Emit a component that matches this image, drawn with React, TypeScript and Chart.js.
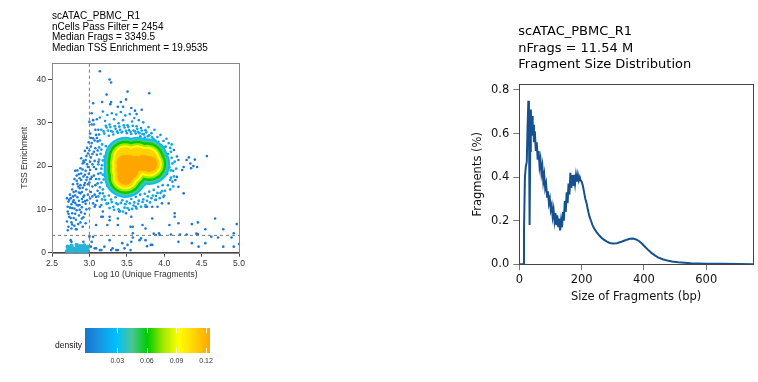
import React, { useEffect, useRef } from "react";
import { Chart, registerables } from "chart.js";
Chart.register(...registerables);

// ---------- text ----------
const scatterTitle = [
  "scATAC_PBMC_R1",
  "nCells Pass Filter = 2454",
  "Median Frags = 3349.5",
  "Median TSS Enrichment = 19.9535",
];
const fragTitle = ["scATAC_PBMC_R1", "nFrags = 11.54 M", "Fragment Size Distribution"];

// ---------- ticks ----------
const logFragTicks = [2.5, 3.0, 3.5, 4.0, 4.5, 5.0];
const tssTicks = [0, 10, 20, 30, 40];
const fragSizeTicks = [0, 200, 400, 600];
const fragPctTicks = [0, 0.2, 0.4, 0.6, 0.8];
const densityTicks = [0.03, 0.06, 0.09, 0.12];
const densityRange = [-0.0027, 0.124];
const densityPalette = ["#1873CC", "#1798E5", "#00BFFF", "#4AC596", "#00CC00", "#A2E700", "#FFFF00", "#FFD200", "#FFA500"];

// ---------- filter cutoffs ----------
const cutoffLogFrags = 3;
const cutoffTss = 4;

// ---------- fragment size distribution ----------
const fragSizes = [0, 5, 10, 12, 15, 18, 21, 24, 26, 29, 31, 33, 35, 37, 39, 41, 43, 45, 47, 50, 53, 56, 59, 62, 65, 68, 71, 74, 77, 80, 83, 86, 89, 92, 95, 98, 101, 104, 107, 110, 113, 116, 119, 122, 125, 128, 131, 134, 137, 140, 143, 146, 149, 152, 155, 158, 161, 164, 167, 170, 173, 176, 179, 182, 185, 188, 191, 194, 197, 200, 204, 208, 212, 216, 220, 225, 230, 235, 240, 248, 255, 262, 270, 280, 290, 300, 313, 325, 334, 345, 355, 365, 375, 385, 395, 405, 415, 425, 435, 445, 460, 475, 490, 510, 530, 550, 575, 600, 650, 700, 750];
const fragPercents = [0, 0, 0, 0, 0.15, 0.40, 0.45, 0.47, 0.60, 0.75, 0.68, 0.18, 0.52, 0.71, 0.63, 0.68, 0.59, 0.64, 0.56, 0.61, 0.52, 0.56, 0.48, 0.52, 0.45, 0.48, 0.42, 0.45, 0.38, 0.41, 0.35, 0.37, 0.31, 0.335, 0.28, 0.30, 0.25, 0.27, 0.22, 0.25, 0.20, 0.235, 0.18, 0.225, 0.17, 0.21, 0.155, 0.20, 0.17, 0.24, 0.20, 0.29, 0.24, 0.33, 0.28, 0.37, 0.32, 0.42, 0.35, 0.41, 0.36, 0.41, 0.37, 0.41, 0.38, 0.41, 0.385, 0.40, 0.385, 0.38, 0.36, 0.33, 0.30, 0.28, 0.25, 0.22, 0.20, 0.18, 0.165, 0.148, 0.135, 0.124, 0.114, 0.105, 0.098, 0.096, 0.097, 0.102, 0.107, 0.113, 0.117, 0.118, 0.114, 0.106, 0.093, 0.078, 0.064, 0.051, 0.041, 0.032, 0.023, 0.017, 0.013, 0.009, 0.007, 0.005, 0.004, 0.003, 0.002, 0.001, 0.0005];

// ---------- cells: [log10 unique fragments, TSS enrichment] ----------
const sparseCells = [
  [3.14, 41.9], [3.27, 40.0], [3.29, 39.3], [3.23, 36.5], [3.51, 37.2], [3.80, 36.8], [3.05, 34.5], [3.17, 34.8], [3.29, 34.8], [3.28, 34.3],
  [3.42, 34.8], [3.49, 35.4], [3.38, 33.7], [3.45, 33.7], [3.61, 32.8], [3.63, 32.0], [3.05, 30.6], [3.03, 32.2], [3.70, 33.0], [3.56, 33.4],
  [4.13, 23.7], [4.17, 22.2], [4.19, 21.4], [4.33, 22.0], [4.30, 21.4], [4.41, 21.5], [4.35, 20.6], [4.39, 20.0], [4.36, 19.5], [4.44, 19.8],
  [4.57, 22.3], [4.26, 19.8], [4.24, 19.1], [4.17, 17.5], [4.15, 16.8], [4.19, 15.2], [4.26, 13.7], [4.06, 11.4], [3.99, 12.9], [3.91, 10.6],
  [3.77, 10.6], [4.14, 9.1], [4.14, 8.3], [3.84, 7.9], [4.07, 6.4], [4.19, 6.8], [4.37, 6.6], [4.45, 7.0], [4.68, 7.9],
  [3.86, 4.4], [4.09, 4.2], [4.21, 4.2], [4.30, 4.2], [4.43, 4.4], [4.45, 4.3], [4.55, 5.4], [4.63, 3.7], [4.72, 3.5], [4.79, 5.4],
  [4.90, 3.5], [4.93, 4.5], [4.97, 6.6], [4.19, 2.5], [4.37, 2.2], [4.46, 1.4], [4.55, 2.2], [4.79, 1.4], [4.93, 1.4], [5.0, 2.0],
  [3.77, 1.5], [3.84, 1.8], [3.94, 4.1], [2.75, 2.9], [2.91, 6.0], [2.83, 5.4], [3.0, 3.7], [3.02, 1.4], [3.07, 1.0], [3.16, 0.6],
  [3.20, 1.4], [3.29, 0.6], [3.27, 2.9], [3.38, 0.6], [3.47, 1.0], [3.55, 0.6], [3.18, 9.5], [3.16, 8.3], [3.24, 6.4], [3.27, 8.3],
  [3.38, 7.9], [3.40, 9.5], [3.55, 6.0], [3.71, 6.4], [3.69, 3.3], [3.58, 3.5], [3.44, 2.2], [3.09, 6.4], [3.58, 4.5], [3.75, 2.9],
  [3.67, 2.9], [3.51, 1.8], [3.56, 2.5], [3.82, 1.8], [3.93, 4.5], [3.89, 4.1], [3.05, 3.7], [3.03, 2.5], [2.92, 2.5], [2.76, 2.5],
  [3.09, 1.0], [3.14, 0.6], [3.31, 1.0], [3.36, 0.6], [3.97, 11.4], [3.89, 12.2], [3.84, 10.6], [3.75, 10.6], [3.62, 10.6], [3.56, 8.3],
  [3.49, 9.1], [3.38, 6.4], [3.58, 6.0], [3.75, 5.6], [3.27, 7.5], [3.18, 8.3], [3.14, 10.6], [3.07, 10.6], [3.09, 12.9], [3.14, 13.7],
];
const wingCells = [
  [2.70, 7.2], [2.71, 9.5], [2.72, 11.8], [2.70, 12.6], [2.73, 8.3], [2.74, 10.4], [2.72, 6.0], [2.74, 13.4], [2.71, 5.2],
  [2.76, 7.0], [2.77, 9.1], [2.76, 11.2], [2.78, 13.0], [2.77, 14.6], [2.79, 8.0], [2.80, 10.2], [2.79, 12.1], [2.78, 15.8], [2.80, 17.0], [2.76, 5.6], [2.80, 6.2],
  [2.82, 7.6], [2.83, 9.8], [2.81, 11.5], [2.84, 12.8], [2.82, 14.2], [2.85, 15.3], [2.83, 16.6], [2.86, 18.1], [2.84, 19.0], [2.86, 8.6], [2.85, 10.9], [2.82, 5.4], [2.86, 13.9], [2.81, 18.9],
  [2.88, 7.0], [2.89, 9.3], [2.87, 11.0], [2.90, 12.4], [2.88, 13.7], [2.91, 15.0], [2.89, 16.8], [2.92, 17.6], [2.88, 19.5], [2.91, 20.6], [2.90, 10.5], [2.92, 8.2], [2.87, 14.9], [2.92, 12.9], [2.89, 21.8],
  [2.94, 9.0], [2.95, 11.3], [2.93, 13.2], [2.96, 14.6], [2.94, 16.1], [2.97, 17.4], [2.95, 18.9], [2.98, 19.8], [2.93, 20.9], [2.96, 22.3], [2.97, 12.1], [2.98, 15.8], [2.94, 23.5], [2.97, 24.2], [2.95, 6.8],
  [3.00, 10.2], [3.01, 12.5], [3.02, 14.0], [3.00, 16.2], [3.03, 17.5], [3.01, 19.1], [3.04, 20.4], [3.02, 22.0], [3.00, 23.6], [3.03, 25.3], [3.05, 26.4], [3.04, 15.3], [3.05, 11.4], [3.01, 27.5], [3.03, 29.6], [3.00, 30.2],
  [3.07, 13.4], [3.08, 15.6], [3.06, 17.8], [3.09, 19.3], [3.07, 21.2], [3.10, 22.6], [3.08, 24.1], [3.11, 25.7], [3.09, 27.2], [3.12, 28.4], [3.06, 29.6], [3.10, 30.8], [3.12, 18.2], [3.11, 16.0], [3.10, 12.0],
  [2.71, 10.6], [2.73, 12.2], [2.72, 9.0], [2.75, 8.0], [2.75, 12.6], [2.77, 10.3], [2.78, 11.7], [2.79, 14.0], [2.77, 6.5], [2.81, 9.0],
  [2.81, 13.2], [2.83, 11.0], [2.84, 15.9], [2.83, 17.8], [2.85, 6.6], [2.86, 12.0], [2.87, 9.9], [2.87, 17.2], [2.88, 15.6], [2.89, 18.3],
  [2.90, 14.0], [2.90, 7.9], [2.91, 11.7], [2.91, 19.2], [2.92, 21.2], [2.93, 15.6], [2.94, 11.9], [2.94, 18.0], [2.95, 21.4], [2.96, 10.0],
  [2.96, 16.8], [2.97, 20.4], [2.98, 22.9], [2.98, 13.4], [2.99, 25.5], [2.99, 18.2], [3.01, 21.0], [3.02, 17.0], [3.02, 24.5], [3.02, 26.5],
  [3.04, 22.8], [3.04, 13.0], [3.06, 19.8], [3.06, 23.3], [3.07, 25.9], [3.08, 28.4], [3.08, 11.0], [3.09, 17.0], [3.10, 26.5], [3.11, 23.6],
  [3.12, 21.0], [3.13, 27.3], [3.11, 14.3],
];
const haloCells = [
  [3.14, 31.2], [3.18, 32.6], [3.21, 30.4], [3.24, 31.8], [3.27, 29.6], [3.30, 32.2], [3.33, 30.8], [3.36, 31.9], [3.39, 29.9], [3.42, 32.5],
  [3.45, 30.6], [3.48, 31.7], [3.51, 29.4], [3.54, 32.0], [3.57, 30.3], [3.60, 31.1], [3.63, 29.2], [3.66, 30.6], [3.69, 28.8], [3.72, 30.1],
  [3.75, 28.3], [3.79, 29.0], [3.83, 27.6], [3.87, 28.4], [3.91, 26.7], [3.95, 27.2], [3.99, 25.8], [4.03, 26.3],
  [3.16, 28.4], [3.20, 27.5], [3.23, 28.9], [3.26, 27.0], [3.29, 28.1], [3.32, 27.3], [3.35, 28.6], [3.38, 27.7], [3.41, 28.4], [3.44, 27.9],
  [3.47, 28.9], [3.50, 27.6], [3.53, 28.3], [3.56, 27.4], [3.59, 28.2], [3.62, 27.5], [3.65, 27.9], [3.68, 26.9], [3.71, 27.4], [3.74, 26.6],
  [3.78, 26.9], [3.82, 25.9], [3.86, 26.2], [3.90, 25.1],
  [3.14, 25.9], [3.16, 23.8], [3.13, 21.5], [3.17, 20.2], [3.15, 18.4], [3.19, 16.9], [3.14, 15.1], [3.18, 13.7], [3.21, 12.2], [3.16, 11.0],
  [3.22, 24.6], [3.20, 22.2], [3.23, 19.6], [3.21, 17.6], [3.24, 15.4], [3.26, 13.2], [3.25, 11.4],
  [3.29, 12.3], [3.32, 10.6], [3.35, 12.8], [3.38, 11.2], [3.41, 9.6], [3.44, 12.1], [3.47, 10.4], [3.50, 11.8], [3.53, 9.9], [3.56, 12.4],
  [3.59, 10.9], [3.62, 12.9], [3.65, 11.3], [3.68, 13.4], [3.71, 11.7], [3.74, 13.6], [3.77, 12.0], [3.80, 14.1], [3.83, 12.6], [3.86, 14.5],
  [3.89, 13.1], [3.92, 15.2], [3.95, 13.8], [3.98, 15.6], [4.01, 14.3],
  [4.02, 24.5], [4.05, 22.8], [4.03, 21.1], [4.07, 19.7], [4.04, 18.2], [4.08, 16.8], [4.05, 15.6], [4.10, 21.9], [4.12, 18.9], [4.11, 16.4],
  [4.00, 23.4], [4.06, 25.3],
];
const haloInnerCells = [
  [3.19, 28.0], [3.22, 29.3], [3.25, 28.2], [3.28, 29.0], [3.31, 27.9], [3.34, 29.2], [3.37, 28.0], [3.40, 29.1], [3.43, 27.8], [3.46, 29.4],
  [3.49, 28.1], [3.52, 29.0], [3.55, 27.9], [3.58, 29.3], [3.61, 28.0], [3.64, 28.6], [3.67, 27.6], [3.70, 28.2], [3.73, 27.3], [3.76, 27.8],
  [3.80, 27.1], [3.84, 26.6], [3.88, 25.9], [3.92, 25.6], [3.96, 24.8], [4.00, 24.3],
  [3.17, 25.0], [3.15, 22.8], [3.18, 21.3], [3.16, 19.4], [3.18, 18.0], [3.16, 16.2], [3.18, 14.6], [3.20, 13.0], [3.17, 12.3], [3.13, 24.3],
  [3.12, 20.4], [3.13, 17.0], [3.12, 13.0],
  [3.23, 11.3], [3.27, 10.3], [3.30, 11.7], [3.33, 9.9], [3.36, 11.4], [3.39, 10.0], [3.42, 11.5], [3.45, 9.5], [3.48, 11.2], [3.51, 10.3],
  [3.54, 11.4], [3.57, 10.1], [3.60, 11.6], [3.63, 10.2], [3.66, 12.0], [3.69, 10.6], [3.72, 12.3], [3.75, 11.0], [3.78, 13.0], [3.81, 11.6],
  [3.85, 13.2], [3.88, 12.2], [3.91, 13.8], [3.94, 12.6], [3.97, 14.2], [4.00, 13.2],
  [4.09, 23.3], [4.11, 20.6], [4.09, 19.0], [4.13, 17.6], [4.09, 17.3], [4.12, 15.3], [4.08, 14.6], [4.14, 21.0], [4.16, 19.4], [4.08, 24.2],
  [4.10, 25.0],
];
const lowTssCells = [
  [2.70, 0.3], [2.72, 0.8], [2.74, 0.2], [2.75, 1.1], [2.77, 0.5], [2.79, 0.9], [2.80, 0.1], [2.82, 0.6], [2.84, 1.2], [2.85, 0.3],
  [2.87, 0.8], [2.89, 0.2], [2.90, 1.0], [2.92, 0.5], [2.94, 0.9], [2.95, 0.2], [2.97, 0.6], [2.98, 1.3], [2.71, 1.4], [2.76, 1.6],
  [2.83, 1.8], [2.88, 1.5], [2.93, 1.7], [2.73, 0.0], [2.78, 0.0], [2.86, 0.0], [2.91, 0.0], [2.96, 0.0],
];
// high-density core (kidney-shaped), centres of the density contours
const coreCenters = [[3.47, 20.7], [3.53, 20.7], [3.47, 19.1], [3.55, 18.9], [3.48, 17.5], [3.62, 20.5], [3.72, 20.7], [3.80, 20.5]];
const coreUpperCenters = [[3.48, 21.9], [3.64, 21.9], [3.77, 21.6]];

const TSS_MAX = 43.8;
const FRAG_X_MAX = 750;
const FRAG_Y_MAX = 0.826;

const toXY = (pts: number[][]) => pts.map(([x, y]) => ({ x, y }));

const textPlugin = (id: string, lines: string[], font: string, dx: number, ys: number[]) => ({
  id,
  afterDraw(chart: any) {
    const ctx = chart.ctx;
    ctx.save();
    ctx.font = font;
    ctx.fillStyle = "#000";
    ctx.textAlign = "left";
    ctx.textBaseline = "middle";
    lines.forEach((l, i) => ctx.fillText(l, chart.chartArea.left + dx, ys[i]));
    ctx.restore();
  },
});

const boxPlugin = (id: string, color: string) => ({
  id,
  afterDraw(chart: any) {
    const { left, top, right, bottom } = chart.chartArea;
    const ctx = chart.ctx;
    ctx.save();
    ctx.strokeStyle = color;
    ctx.lineWidth = 1;
    ctx.strokeRect(Math.round(left) + 0.5, Math.round(top) + 0.5, Math.round(right - left), Math.round(bottom - top));
    ctx.restore();
  },
});

export default function App() {
  const leftRef = useRef<HTMLCanvasElement>(null);
  const rightRef = useRef<HTMLCanvasElement>(null);
  const barRef = useRef<HTMLCanvasElement>(null);

  useEffect(() => {
    const leftFont = "'Liberation Sans', Arial, sans-serif";
    const rightFont = "'DejaVu Sans', sans-serif";

    const coreLayers = [
      { color: densityPalette[2], r: 21 },
      { color: densityPalette[3], r: 19 },
      { color: densityPalette[4], r: 17 },
      { color: densityPalette[5], r: 14.5 },
      { color: densityPalette[6], r: 12.5 },
      { color: densityPalette[7], r: 10.5 },
      { color: densityPalette[8], r: 8 },
    ];
    const coreDatasets = coreLayers.map((l, i) => ({
      data: toXY(i === coreLayers.length - 1 ? coreCenters : coreCenters.concat(coreUpperCenters)),
      backgroundColor: l.color,
      pointRadius: l.r,
      pointBorderWidth: 0,
      order: 7 - i,
    }));

    const left = new Chart(leftRef.current!, {
      type: "scatter",
      data: {
        datasets: [
          { data: toXY(sparseCells), backgroundColor: "#1B78D3", pointRadius: 1.3, pointBorderWidth: 0, order: 13 },
          { data: toXY(wingCells), backgroundColor: "#1B7ED8", pointRadius: 1.3, pointBorderWidth: 0, order: 12 },
          { data: toXY(haloCells), backgroundColor: "#1798E5", pointRadius: 1.3, pointBorderWidth: 0, order: 11 },
          { data: toXY(haloInnerCells), backgroundColor: "#0DABEE", pointRadius: 1.4, pointBorderWidth: 0, order: 10 },
          { data: toXY(lowTssCells), backgroundColor: "#2AB2D6", pointRadius: 2.2, pointBorderWidth: 0, order: 9 },
          ...coreDatasets,
          {
            type: "line" as any,
            data: [{ x: cutoffLogFrags, y: 0 }, { x: cutoffLogFrags, y: TSS_MAX }],
            borderColor: "#777", borderWidth: 1, borderDash: [3, 3], pointRadius: 0, showLine: true, order: 0,
          },
          {
            type: "line" as any,
            data: [{ x: 2.5, y: cutoffTss }, { x: 5.0, y: cutoffTss }],
            borderColor: "#777", borderWidth: 1, borderDash: [3, 3], pointRadius: 0, showLine: true, order: 0,
          },
        ] as any,
      },
      options: {
        animation: false,
        responsive: false,
        devicePixelRatio: 1,
        layout: { padding: { left: 20, top: 63, right: 19, bottom: 20 } },
        plugins: { legend: { display: false }, tooltip: { enabled: false } },
        scales: {
          x: {
            type: "linear", min: 2.5, max: 5.0,
            afterBuildTicks: (s: any) => { s.ticks = logFragTicks.map((v) => ({ value: v })); },
            afterFit: (s: any) => { s.height = 27.3; },
            ticks: { callback: (v: any) => Number(v).toFixed(1), font: { family: leftFont, size: 8.5 }, color: "#333", padding: 2, maxRotation: 0 },
            grid: { drawOnChartArea: false, drawTicks: true, tickLength: 4, color: "#444" },
            border: { display: true, color: "#444" },
            title: { display: true, text: "Log 10 (Unique Fragments)", font: { family: leftFont, size: 8.5 }, color: "#333", padding: 0 },
          },
          y: {
            type: "linear", min: 0, max: TSS_MAX,
            afterBuildTicks: (s: any) => { s.ticks = tssTicks.map((v) => ({ value: v })); },
            afterFit: (s: any) => { s.width = 32; },
            ticks: { font: { family: leftFont, size: 8.5 }, color: "#333", padding: 2 },
            grid: { drawOnChartArea: false, drawTicks: true, tickLength: 4, color: "#444" },
            border: { display: true, color: "#444" },
            title: { display: true, text: "TSS Enrichment", font: { family: leftFont, size: 8.5 }, color: "#333", padding: 0 },
          },
        },
      } as any,
      plugins: [
        boxPlugin("leftBox", "#888"),
        textPlugin("leftTitle", scatterTitle, `10px ${leftFont}`, 0, [16, 26.8, 37.6, 48.4]),
      ],
    });

    const right = new Chart(rightRef.current!, {
      type: "line",
      data: {
        datasets: [
          {
            data: fragSizes.map((s, i) => ({ x: s, y: fragPercents[i] })),
            borderColor: "#16508F", borderWidth: 2, pointRadius: 0, tension: 0, fill: false,
          },
        ],
      },
      options: {
        animation: false,
        responsive: false,
        devicePixelRatio: 1,
        layout: { padding: { left: 11, top: 84.3, right: 5, bottom: 6.1 } },
        plugins: { legend: { display: false }, tooltip: { enabled: false } },
        scales: {
          x: {
            type: "linear", min: 0, max: FRAG_X_MAX,
            afterBuildTicks: (s: any) => { s.ticks = fragSizeTicks.map((v) => ({ value: v })); },
            afterFit: (s: any) => { s.height = 39.6; },
            ticks: { font: { family: rightFont, size: 11.5 }, color: "#111", padding: 3, maxRotation: 0 },
            grid: { drawOnChartArea: false, drawTicks: true, tickLength: 6, color: "#777" },
            border: { display: true, color: "#777" },
            title: { display: true, text: "Size of Fragments (bp)", font: { family: rightFont, size: 11.5 }, color: "#111", padding: 0 },
          },
          y: {
            type: "linear", min: 0, max: FRAG_Y_MAX,
            afterBuildTicks: (s: any) => { s.ticks = fragPctTicks.map((v) => ({ value: v })); },
            afterFit: (s: any) => { s.width = 48.3; },
            ticks: { callback: (v: any) => Number(v).toFixed(1), font: { family: rightFont, size: 11.5 }, color: "#111", padding: 4 },
            grid: { drawOnChartArea: false, drawTicks: true, tickLength: 6, color: "#777" },
            border: { display: true, color: "#777" },
            title: { display: true, text: "Fragments (%)", font: { family: rightFont, size: 11.5 }, color: "#111", padding: 0 },
          },
        },
      } as any,
      plugins: [
        boxPlugin("rightBox", "#444"),
        textPlugin("rightTitle", fragTitle, `13px ${rightFont}`, -1, [32, 48.5, 65]),
      ],
    });

    const bar = new Chart(barRef.current!, {
      type: "scatter",
      data: { datasets: [] },
      options: {
        animation: false,
        responsive: false,
        devicePixelRatio: 1,
        layout: { padding: { left: 45, top: 13, right: 30, bottom: 0 } },
        plugins: { legend: { display: false }, tooltip: { enabled: false } },
        scales: {
          x: {
            type: "linear", min: densityRange[0], max: densityRange[1],
            afterBuildTicks: (s: any) => { s.ticks = densityTicks.map((v) => ({ value: v })); },
            afterFit: (s: any) => { s.height = 22; },
            ticks: { callback: (v: any) => Number(v).toFixed(2), font: { family: leftFont, size: 7 }, color: "#333", padding: 4, maxRotation: 0 },
            grid: { display: false, drawTicks: false },
            border: { display: false },
          },
          y: { display: false, min: 0, max: 1 },
        },
      } as any,
      plugins: [
        {
          id: "colorbar",
          beforeDatasetsDraw(chart: any) {
            const { left, right, top, bottom } = chart.chartArea;
            const ctx = chart.ctx;
            const g = ctx.createLinearGradient(left, 0, right, 0);
            densityPalette.forEach((c, i) => g.addColorStop(i / (densityPalette.length - 1), c));
            ctx.save();
            ctx.fillStyle = g;
            ctx.fillRect(left, top, right - left, bottom - top);
            ctx.strokeStyle = "rgba(255,255,255,0.9)";
            ctx.lineWidth = 1;
            const h = (bottom - top) / 5;
            densityTicks.forEach((v) => {
              const px = Math.round(chart.scales.x.getPixelForValue(v)) + 0.5;
              ctx.beginPath();
              ctx.moveTo(px, top); ctx.lineTo(px, top + h);
              ctx.moveTo(px, bottom - h); ctx.lineTo(px, bottom);
              ctx.stroke();
            });
            ctx.font = `8.5px ${leftFont}`;
            ctx.fillStyle = "#111";
            ctx.textAlign = "right";
            ctx.textBaseline = "middle";
            ctx.fillText("density", left - 3, top + (bottom - top) * 0.72);
            ctx.restore();
          },
        },
      ],
    });

    return () => { left.destroy(); right.destroy(); bar.destroy(); };
  }, []);

  return (
    <div style={{ position: "fixed", left: 0, top: 0, width: 758, height: 382, background: "#fff" }}>
      <canvas ref={leftRef} width={260} height={300} style={{ position: "absolute", left: 0, top: 0 }} />
      <canvas ref={barRef} width={200} height={60} style={{ position: "absolute", left: 40, top: 315 }} />
      <canvas ref={rightRef} width={298} height={310} style={{ position: "absolute", left: 460, top: 0 }} />
    </div>
  );
}
